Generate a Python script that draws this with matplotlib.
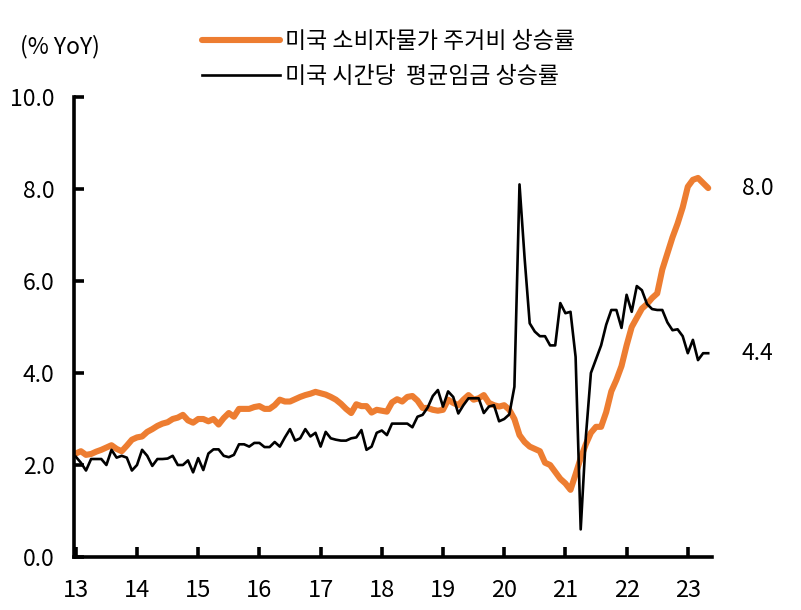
import numpy as np
import matplotlib
matplotlib.use("Agg")
import matplotlib.pyplot as plt

plt.rcParams['font.family'] = ['Noto Sans CJK KR', 'DejaVu Sans']

# monthly YoY %, Jan 2013 - May 2023
shelter = [
    2.25, 2.30, 2.22, 2.24, 2.29, 2.33, 2.38, 2.43, 2.35, 2.30, 2.42, 2.55,  # 2013
    2.60, 2.62, 2.72, 2.78, 2.85, 2.90, 2.93, 3.00, 3.03, 3.09, 2.97, 2.92,  # 2014
    3.00, 3.00, 2.95, 3.00, 2.88, 3.02, 3.13, 3.05, 3.22, 3.22, 3.22, 3.26,  # 2015
    3.28, 3.22, 3.22, 3.30, 3.42, 3.38, 3.38, 3.43, 3.48, 3.52, 3.55, 3.59,  # 2016
    3.56, 3.53, 3.48, 3.42, 3.33, 3.22, 3.13, 3.32, 3.28, 3.28, 3.14, 3.20,  # 2017
    3.18, 3.16, 3.36, 3.43, 3.38, 3.48, 3.50, 3.40, 3.24, 3.24, 3.20, 3.18,  # 2018
    3.20, 3.42, 3.35, 3.30, 3.42, 3.52, 3.42, 3.45, 3.52, 3.35, 3.30, 3.27,  # 2019
    3.30, 3.20, 3.00, 2.65, 2.50, 2.40, 2.35, 2.30, 2.05, 2.00, 1.85, 1.70,  # 2020
    1.60, 1.46, 1.80, 2.15, 2.45, 2.70, 2.83, 2.83, 3.15, 3.60, 3.85, 4.15,  # 2021
    4.60, 5.00, 5.20, 5.40, 5.50, 5.63, 5.73, 6.25, 6.60, 6.95, 7.25, 7.60,  # 2022
    8.05, 8.20, 8.24, 8.13, 8.02,                                            # 2023
]
wages = [
    2.18, 2.05, 1.88, 2.13, 2.13, 2.13, 2.00, 2.33, 2.16, 2.20, 2.16, 1.88,  # 2013
    2.00, 2.33, 2.20, 1.98, 2.13, 2.13, 2.14, 2.20, 2.00, 2.00, 2.10, 1.84,  # 2014
    2.15, 1.89, 2.25, 2.34, 2.34, 2.20, 2.17, 2.22, 2.45, 2.45, 2.40, 2.48,  # 2015
    2.48, 2.39, 2.39, 2.50, 2.40, 2.60, 2.78, 2.53, 2.58, 2.78, 2.62, 2.70,  # 2016
    2.40, 2.72, 2.58, 2.55, 2.53, 2.53, 2.58, 2.60, 2.76, 2.33, 2.40, 2.70,  # 2017
    2.75, 2.65, 2.90, 2.90, 2.90, 2.90, 2.82, 3.05, 3.09, 3.25, 3.50, 3.63,  # 2018
    3.27, 3.60, 3.48, 3.12, 3.30, 3.45, 3.45, 3.45, 3.13, 3.27, 3.30, 2.95,  # 2019
    3.00, 3.10, 3.70, 8.10, 6.50, 5.08, 4.90, 4.80, 4.80, 4.60, 4.60, 5.52,  # 2020
    5.30, 5.33, 4.35, 0.60, 2.60, 4.00, 4.30, 4.60, 5.05, 5.37, 5.37, 4.98,  # 2021
    5.70, 5.33, 5.89, 5.80, 5.50, 5.39, 5.37, 5.37, 5.10, 4.93, 4.95, 4.80,  # 2022
    4.43, 4.72, 4.28, 4.43, 4.43,                                            # 2023
]
years = list(range(2013, 2024))
year_labels = [str(y)[2:] for y in years]
yticks = [0, 2, 4, 6, 8, 10]
label_shelter = "미국 소비자물가 주거비 상승률"
label_wages = "미국 시간당  평균임금 상승률"

t = 2013 + np.arange(len(shelter)) / 12.0

fig = plt.figure(figsize=(8.01, 6.10), dpi=100)
ax = fig.add_axes([74 / 801, 53 / 610, 638 / 801, 460 / 610])

orange = "#ED7D31"
l1, = ax.plot(t, shelter, color=orange, lw=4.4, solid_capstyle="round",
              solid_joinstyle="round", label=label_shelter, zorder=2)
l2, = ax.plot(t, wages, color="black", lw=1.9, label=label_wages, zorder=3)

ax.set_xlim(2013 - 1.8 / 61.2, 2013 + (712 - 75.8) / 61.2)
ax.set_ylim(0, 10)
ax.set_xticks(years)
ax.set_xticklabels(year_labels, fontsize=17)
ax.set_yticks(yticks)
ax.set_yticklabels([f"{v:.1f}" for v in yticks], fontsize=16.5)

for s in ["top", "right"]:
    ax.spines[s].set_visible(False)
for s in ["left", "bottom"]:
    ax.spines[s].set_linewidth(2.6)
ax.tick_params(axis="both", direction="in", length=7, width=2.6, colors="black")
ax.tick_params(axis="x", pad=16)
ax.tick_params(axis="y", pad=14)

ax.text(20 / 801, 1 - 47 / 610, "(% YoY)", transform=fig.transFigure,
        fontsize=16.5, ha="left", va="center")
ax.text(t[-1] + 0.55, shelter[-1], f"{shelter[-1]:.1f}", fontsize=16.5,
        va="center", ha="left")
ax.text(t[-1] + 0.55, wages[-1], f"{wages[-1]:.1f}", fontsize=16.5,
        va="center", ha="left")

fig.legend(handles=[l1, l2], loc="upper left",
           bbox_to_anchor=(181 / 801, 1 - 9 / 610), frameon=False,
           fontsize=16.5, handlelength=3.4, handletextpad=0.25,
           labelspacing=0.55)

fig.savefig("out.png", dpi=100)
